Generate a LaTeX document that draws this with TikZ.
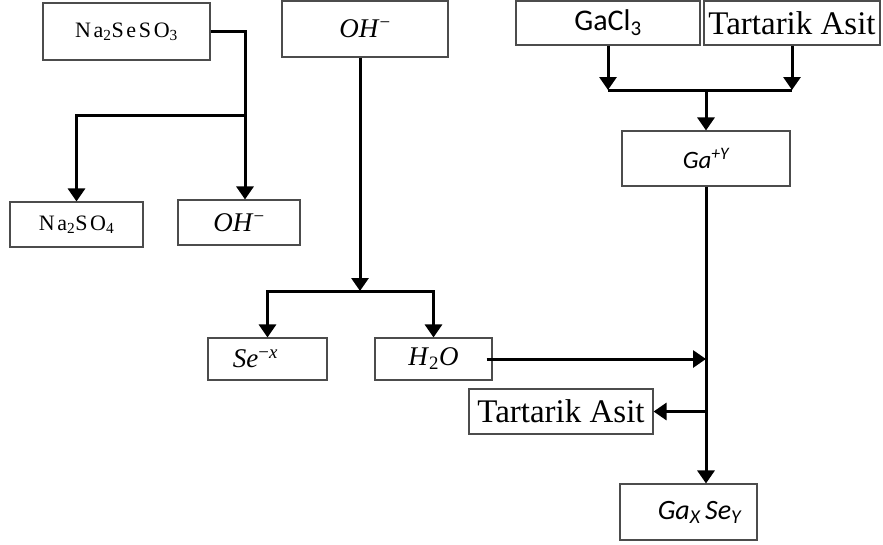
\documentclass[tikz,border=0pt]{standalone}
\usepackage{fontspec}
\setmainfont{Liberation Serif}
\newfontfamily\calibrifont{Carlito}
\usetikzlibrary{arrows.meta}
\newcommand{\txtsize}[1]{\fontsize{#1}{#1}\selectfont}

\begin{document}
\begin{tikzpicture}[x=1pt,y=-1pt,
  box/.style={draw=black!70, line width=1.1pt, inner sep=0pt, fill=white},
  flow/.style={line width=3pt},
  arr/.style={line width=3pt, -{Triangle[width=17pt,length=13pt]}}]
\useasboundingbox[fill=white] (0,0) rectangle (883,544);
\node[box, minimum width=167, minimum height=57] (nass) at (126.5,31.5) {\txtsize{22}\addfontfeature{LetterSpace=12}Na\textsubscript{2}SeSO\textsubscript{3}};
\node[box, minimum width=166, minimum height=56] (ohtop) at (365,29) {\txtsize{27}\textit{OH}\textsuperscript{−}};
\node[box, minimum width=184, minimum height=44] (gacl) at (608,23) {\txtsize{30}\calibrifont GaCl\textsubscript{3}};
\node[box, minimum width=176, minimum height=44] (tartop) at (792,23) {\txtsize{33}Tartarik Asit};
\node[box, minimum width=168, minimum height=55] (gay) at (706,158.5) {\txtsize{25}\calibrifont\itshape Ga\textsuperscript{+Y}};
\node[box, minimum width=133, minimum height=45] (naso) at (76.5,224.5) {\txtsize{22}\addfontfeature{LetterSpace=12}Na\textsubscript{2}SO\textsubscript{4}};
\node[box, minimum width=122, minimum height=45] (ohmid) at (239,222.5) {\txtsize{27}\textit{OH}\textsuperscript{−}};
\node[box, minimum width=119, minimum height=42] (se) at (267.5,359) {\hspace*{-24pt}\txtsize{27}\textit{Se}\textsuperscript{−\textit{x}}};
\node[box, minimum width=117, minimum height=42] (water) at (433.5,359) {\txtsize{27}\textit{H}\textsubscript{2}\textit{O}};
\node[box, minimum width=184, minimum height=45] (tarbot) at (561,411.5) {\txtsize{33}Tartarik Asit};
\node[box, minimum width=137, minimum height=56] (gase) at (688.5,512) {\hspace*{22pt}\txtsize{28}\calibrifont\itshape Ga\textsubscript{X}\,Se\textsubscript{Y}};
\coordinate (j1) at (245,115);
\coordinate (j2) at (360,291);
\coordinate (j3) at (706,90);
\draw[flow] (nass.east) -| (j1);
\draw[arr] (j1) -- (j1 |- ohmid.north);
\draw[arr] (j1) -| (naso.north);
\draw[arr] (j2 |- ohtop.south) -- (j2);
\draw[arr] (j2) -| (se.north);
\draw[arr] (j2) -| (water.north);
\draw[arr] (gacl.south) -- (gacl.south |- j3);
\draw[arr] (tartop.south) -- (tartop.south |- j3);
\draw[flow] (gacl.south |- j3) -- (tartop.south |- j3);
\draw[arr] (j3) -- (gay.north);
\draw[arr] (gay.south) -- (gay.south |- gase.north);
\draw[arr] ([xshift=-6pt]water.east) -- (gay.south |- water.east);
\draw[arr] (gay.south |- tarbot.east) -- (tarbot.east);
\end{tikzpicture}
\end{document}
